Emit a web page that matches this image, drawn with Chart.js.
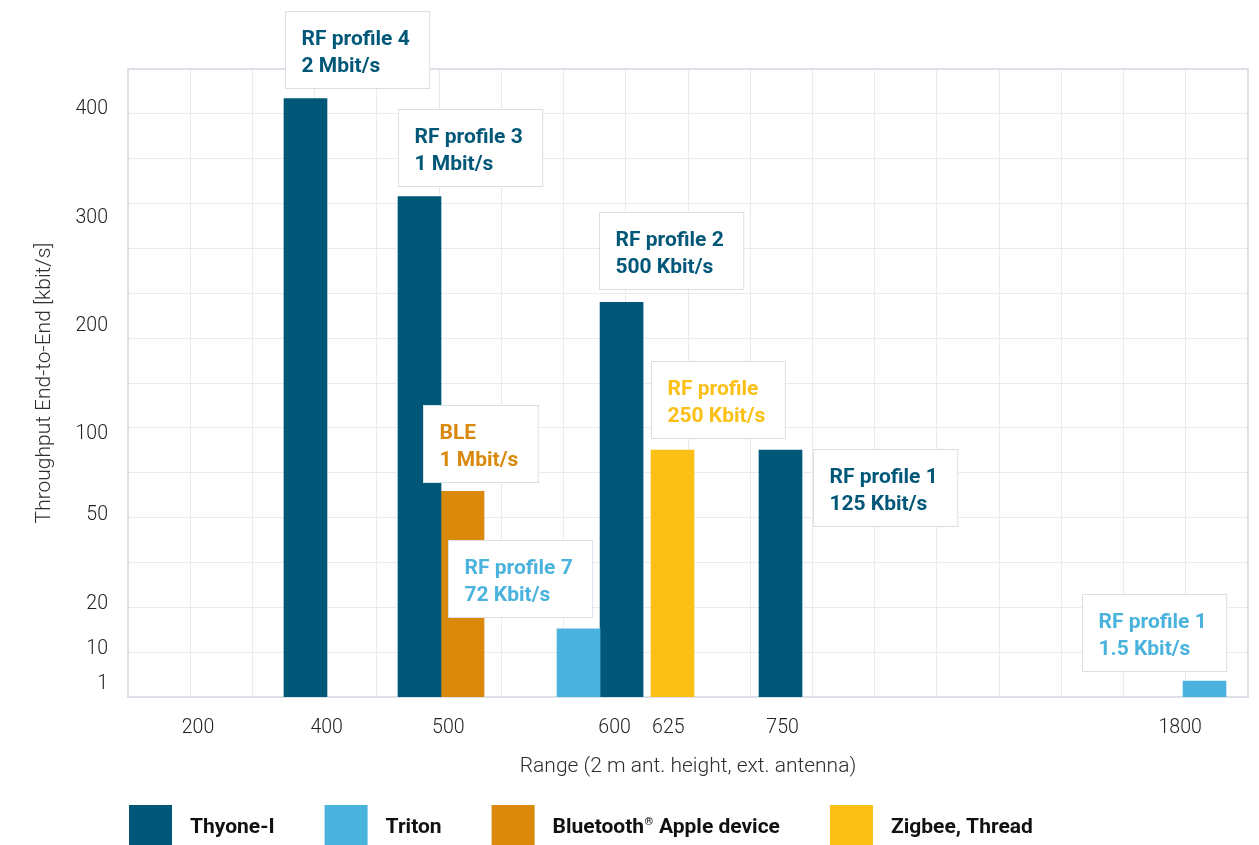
<!DOCTYPE html>
<html>
<head>
<meta charset="utf-8">
<script src="https://cdn.jsdelivr.net/npm/chart.js@4/dist/chart.umd.min.js"></script>
<style>
  html, body { margin: 0; padding: 0; background: #ffffff; overflow: hidden; }
  #wrap { width: 1259px; height: 845px; position: relative; }
</style>
</head>
<body>
<div id="wrap"><canvas id="chart"></canvas></div>
<script>
// ---------------- data ----------------
const categories = ['200', '400', '500', '600', '625', '750', '1800'];
const yTickValues = [1, 10, 20, 50, 100, 200, 300, 400];
const seriesNames = ['Thyone-I', 'Triton', 'Bluetooth® Apple device', 'Zigbee, Thread'];

const thyoneRanges = ['400', '500', '600', '750'];
const thyoneValues = [410, 320, 222, 90];
const thyoneNotes = [['RF profile 4', '2 Mbit/s'], ['RF profile 3', '1 Mbit/s'], ['RF profile 2', '500 Kbit/s'], ['RF profile 1', '125 Kbit/s']];

const tritonRanges = ['600', '1800'];
const tritonValues = [14.5, 1.9];
const tritonNotes = [['RF profile 7', '72 Kbit/s'], ['RF profile 1', '1.5 Kbit/s']];

const bleRanges = ['500'];
const bleValues = [64.5];
const bleNotes = [['BLE', '1 Mbit/s']];

const zigbeeRanges = ['625'];
const zigbeeValues = [90];
const zigbeeNotes = [['RF profile', '250 Kbit/s']];

const xAxisTitle = 'Range (2 m ant. height, ext. antenna)';
const yAxisTitle = 'Throughput End-to-End [kbit/s]';

// align a series (range -> value) to the category list
function alignTo(ranges, items) {
  return categories.map(c => {
    const i = ranges.indexOf(c);
    return i < 0 ? null : items[i];
  });
}

// ---------------- custom scales ----------------
// category axis whose categories sit at hand-placed slots of the gridded axis
class SlottedCategoryScale extends Chart.CategoryScale {
  static id = 'slotted';
  static defaults = Chart.CategoryScale.defaults;
  _slotToPixel(slot) {
    return this.getPixelForDecimal(slot / this.options.slotCount);
  }
  getPixelForValue(value) {
    if (typeof value !== 'number') value = this.parse(value);
    if (value === null || value === undefined || isNaN(value)) return NaN;
    const s = this.options.barSlots;
    const i = Math.max(0, Math.min(s.length - 1, Math.floor(value)));
    const j = Math.min(s.length - 1, i + 1);
    return this._slotToPixel(s[i] + (s[j] - s[i]) * (value - i));
  }
  getPixelForTick(index) {
    const t = this.ticks[index];
    if (!t) return null;
    return this._slotToPixel(this.options.labelSlots[t.value]);
  }
}

// value axis with a piecewise-linear (broken) mapping
class PiecewiseScale extends Chart.LinearScale {
  static id = 'piecewise';
  static defaults = Chart.LinearScale.defaults;
  getPixelForValue(value) {
    const v = +value;
    if (!isFinite(v)) return NaN;
    const bv = this.options.breakValues, bf = this.options.breakFractions;
    let k = 1;
    while (k < bv.length - 1 && v > bv[k]) k++;
    const f = bf[k - 1] + (bf[k] - bf[k - 1]) * (v - bv[k - 1]) / (bv[k] - bv[k - 1]);
    return this.getPixelForDecimal(f);
  }
  getValueForPixel(pixel) {
    const f = this.getDecimalForPixel(pixel);
    const bv = this.options.breakValues, bf = this.options.breakFractions;
    let k = 1;
    while (k < bf.length - 1 && f > bf[k]) k++;
    return bv[k - 1] + (bv[k] - bv[k - 1]) * (f - bf[k - 1]) / (bf[k] - bf[k - 1]);
  }
}
Chart.register(SlottedCategoryScale, PiecewiseScale);

// ---------------- plugins ----------------
const framePlugin = {
  id: 'plotFrame',
  beforeDatasetsDraw(chart, args, o) {
    const { left, top, right, bottom } = chart.chartArea;
    const ctx = chart.ctx;
    ctx.save();
    ctx.strokeStyle = o.color;
    ctx.lineWidth = o.width;
    ctx.strokeRect(left, top, right - left, bottom - top);
    ctx.restore();
  }
};

const notePlugin = {
  id: 'noteBoxes',
  afterDraw(chart, args, o) {
    const ctx = chart.ctx;
    ctx.save();
    ctx.font = o.font;
    chart.data.datasets.forEach((ds, di) => {
      const meta = chart.getDatasetMeta(di);
      meta.data.forEach((bar, i) => {
        const note = ds.notes[i];
        if (!note) return;
        const p = ds.notePlacement[categories[i]];
        const { x, y, width } = bar.getProps(['x', 'y', 'width'], true);
        const L = x - width / 2, R = x + width / 2;
        const w = Math.max(...note.map(t => ctx.measureText(t).width)) + o.padLeft + o.padRight;
        const h = o.height;
        let bx, by;
        if (p.at === 'above') { bx = L + p.dx; by = y - p.gap - h; }
        else if (p.at === 'aboveEnd') { bx = R + p.dx - w; by = y - p.gap - h; }
        else { bx = R + p.dx; by = y + p.dy; }
        bx = Math.round(bx) + 0.5; by = Math.round(by) + 0.5;
        ctx.fillStyle = '#ffffff';
        ctx.fillRect(bx, by, w, h);
        ctx.strokeStyle = o.border;
        ctx.lineWidth = 1;
        ctx.strokeRect(bx, by, w, h);
        ctx.fillStyle = ds.noteColor;
        ctx.textBaseline = 'alphabetic';
        ctx.textAlign = 'left';
        note.forEach((t, li) => ctx.fillText(t, bx + o.padLeft, by + o.firstBaseline + li * o.lineGap));
      });
    });
    ctx.restore();
  }
};

const legendPlugin = {
  id: 'swatchLegend',
  afterDraw(chart, args, o) {
    const ctx = chart.ctx;
    ctx.save();
    let x = chart.chartArea.left + o.startOffset;
    const y = chart.chartArea.bottom + o.topOffset;
    chart.data.datasets.forEach(ds => {
      ctx.fillStyle = ds.backgroundColor;
      ctx.fillRect(x, y, o.boxWidth, o.boxHeight);
      x += o.boxWidth + o.textGap;
      ctx.fillStyle = o.color;
      ctx.textBaseline = 'alphabetic';
      ctx.textAlign = 'left';
      const parts = ds.label.split('®');
      const base = y + o.baseline;
      parts.forEach((part, pi) => {
        ctx.font = o.font;
        ctx.fillText(part, x, base);
        x += ctx.measureText(part).width;
        if (pi < parts.length - 1) {
          ctx.font = o.supFont;
          ctx.fillText('®', x + 0.5, base - 8);
          x += ctx.measureText('®').width + 1;
        }
      });
      x += o.itemGap;
    });
    ctx.restore();
  }
};

// ---------------- chart ----------------
const common = { xAxisID: 'x', yAxisID: 'y', skipNull: true, barThickness: 43, borderWidth: 0 };

function build() {
  new Chart(document.getElementById('chart'), {
    type: 'bar',
    data: {
      labels: categories,
      datasets: [
        Object.assign({
          label: seriesNames[0], data: alignTo(thyoneRanges, thyoneValues), notes: alignTo(thyoneRanges, thyoneNotes),
          backgroundColor: '#005778', noteColor: '#005778', order: 1,
          notePlacement: { '400': { at: 'above', dx: 1, gap: 11 }, '500': { at: 'above', dx: 0, gap: 11 }, '600': { at: 'above', dx: -1, gap: 13 }, '750': { at: 'right', dx: 11, dy: -1 } }
        }, common),
        Object.assign({
          label: seriesNames[1], data: alignTo(tritonRanges, tritonValues), notes: alignTo(tritonRanges, tritonNotes),
          backgroundColor: '#4ab3dd', noteColor: '#4ab3dd', order: 0,
          notePlacement: { '600': { at: 'aboveEnd', dx: -8, gap: 12 }, '1800': { at: 'aboveEnd', dx: 0, gap: 10 } }
        }, common),
        Object.assign({
          label: seriesNames[2], data: alignTo(bleRanges, bleValues), notes: alignTo(bleRanges, bleNotes),
          backgroundColor: '#db890b', noteColor: '#d9890c', order: 2,
          notePlacement: { '500': { at: 'above', dx: -18, gap: 9 } }
        }, common),
        Object.assign({
          label: seriesNames[3], data: alignTo(zigbeeRanges, zigbeeValues), notes: alignTo(zigbeeRanges, zigbeeNotes),
          backgroundColor: '#fbbf16', noteColor: '#fbbf16', order: 3,
          notePlacement: { '625': { at: 'above', dx: 0, gap: 12 } }
        }, common)
      ]
    },
    options: {
      responsive: true,
      maintainAspectRatio: false,
      animation: false,
      events: [],
      layout: { padding: { top: 69, right: 11, bottom: 66, left: 0 } },
      font: { family: 'Roboto' },
      scales: {
        x: {
          type: 'slotted',
          position: 'bottom',
          offset: false,
          slotCount: 17,
          barSlots:   [1.06, 2.694, 4.751, 7.165, 8.265, 9.904, 16.34],
          labelSlots: [1.063, 3.016, 4.862, 7.385, 8.201, 9.935, 15.97],
          grid: { display: false, drawTicks: false },
          border: { display: false },
          ticks: { autoSkip: false, maxRotation: 0, padding: 19, color: '#222222', font: { family: 'Roboto', size: 19.5, weight: '300' } },
          title: { display: true, text: xAxisTitle, color: '#2e2e2e', padding: { top: 17, bottom: 0 }, font: { family: 'Roboto', size: 21, weight: '300' } },
          afterFit: s => { s.height = 82; }
        },
        y: {
          type: 'piecewise',
          position: 'left',
          min: 0,
          max: 437.5,
          breakValues:    [0, 1, 10, 20, 50, 100, 200, 300, 400, 437.5],
          breakFractions: [0, 0.0199, 0.0755, 0.1486, 0.2901, 0.4189, 0.5906, 0.7623, 0.9356, 1],
          afterBuildTicks: s => { s.ticks = yTickValues.map(v => ({ value: v })); },
          grid: { display: false, drawTicks: false },
          border: { display: false },
          ticks: { autoSkip: false, padding: 20, color: '#222222', font: { family: 'Roboto', size: 19.5, weight: '300' } },
          title: { display: true, text: yAxisTitle, color: '#2e2e2e', padding: { top: 32, bottom: 0 }, font: { family: 'Roboto', size: 21, weight: '300' } },
          afterFit: s => { s.width = 128; }
        },
        xGrid: {
          type: 'linear',
          position: 'top',
          min: 0, max: 17,
          afterBuildTicks: s => { s.ticks = Array.from({ length: 18 }, (_, i) => ({ value: i })); },
          ticks: { display: false },
          grid: { color: '#e9ecef', lineWidth: 1, drawTicks: false },
          border: { display: false },
          afterFit: s => { s.height = 0; }
        },
        yGrid: {
          type: 'linear',
          position: 'right',
          min: 0, max: 14,
          afterBuildTicks: s => { s.ticks = Array.from({ length: 15 }, (_, i) => ({ value: i })); },
          ticks: { display: false },
          grid: { color: '#e9ecef', lineWidth: 1, drawTicks: false },
          border: { display: false },
          afterFit: s => { s.width = 0; }
        }
      },
      plugins: {
        legend: { display: false },
        tooltip: { enabled: false },
        plotFrame: { color: '#dbe1e6', width: 2 },
        noteBoxes: { font: 'bold 21px Roboto', border: '#dadfe4', height: 77, padLeft: 16, padRight: 20, firstBaseline: 33, lineGap: 27 },
        swatchLegend: { startOffset: 1, topOffset: 108, boxWidth: 43, boxHeight: 42, textGap: 18, itemGap: 50, baseline: 28, color: '#111111', font: 'bold 21px Roboto', supFont: 'bold 11px Roboto' }
      }
    },
    plugins: [framePlugin, notePlugin, legendPlugin]
  });
}

Promise.all(['300 19.5px Roboto', '300 21px Roboto', 'bold 21px Roboto', 'bold 11px Roboto']
  .map(f => document.fonts.load(f).catch(() => null)))
  .then(build, build);
</script>
</body>
</html>
